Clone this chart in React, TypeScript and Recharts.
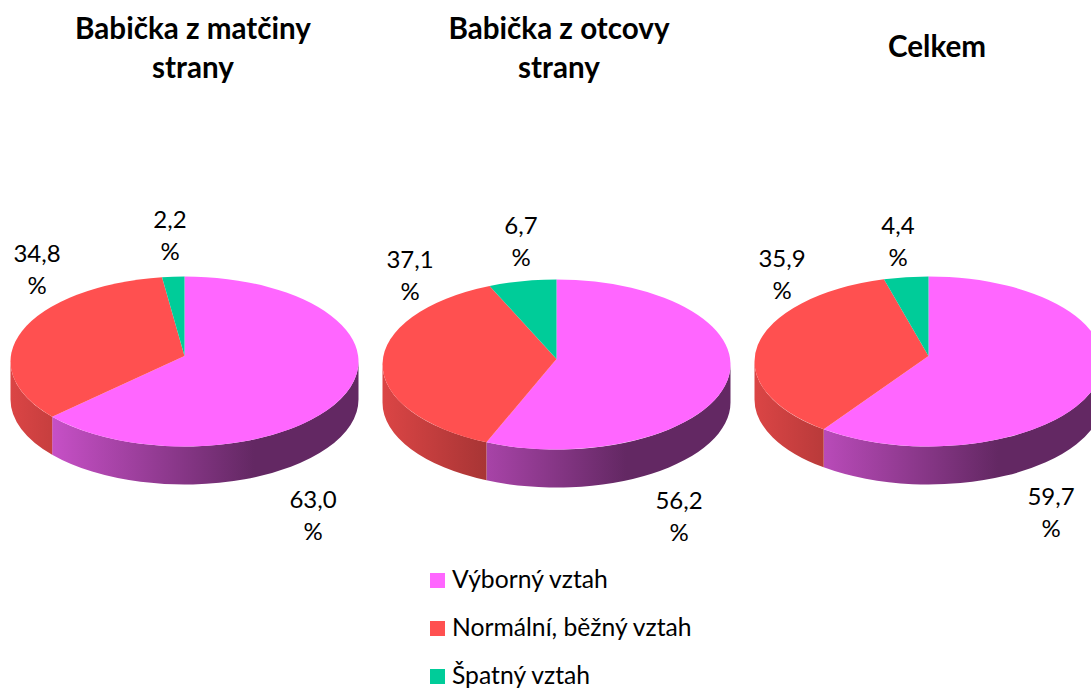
import React from 'react';
import { PieChart, Pie, Legend } from 'recharts';

const categories = ['Výborný vztah', 'Normální, běžný vztah', 'Špatný vztah'];
const colors = ['#FF66FF', '#FF5050', '#00CC99'];

const matcinyValues = [63.0, 34.8, 2.2];
const otcovyValues = [56.2, 37.1, 6.7];
const celkemValues = [59.7, 35.9, 4.4];

const WIDTH = 1091;
const HEIGHT = 688;
const FONT = 'Lato, "Open Sans", sans-serif';

// perspective of the 3D look
const TILT = 85 / 174;
const APEX_SHIFT = 5.5;
const DEPTH = 38;

const shade = (hex: string, k: number) => {
  const n = parseInt(hex.slice(1), 16);
  const c = (v: number) => Math.round(v * k);
  return `rgb(${c((n >> 16) & 255)},${c((n >> 8) & 255)},${c(n & 255)})`;
};

// ray from the apex to the rim of the ellipse, returns the ellipse angle
function rimAngle(angle: number, ry: number) {
  const a = (angle * Math.PI) / 180;
  const dx = Math.cos(a);
  const dy = -Math.sin(a);
  const A = dx * dx + dy * dy;
  const by = (-APEX_SHIFT / ry) * dy;
  const C = (APEX_SHIFT / ry) ** 2 - 1;
  const t = -by + Math.sqrt(by * by - A * C);
  let phi = Math.atan2(t * dy - APEX_SHIFT / ry, t * dx);
  if (phi < -Math.PI / 2 - 1e-6) phi += Math.PI * 2;
  return phi;
}

function Slice3D(props: any) {
  const { cx, cy, outerRadius, startAngle, endAngle, fill } = props;
  const rx = outerRadius;
  const ry = rx * TILT;
  const ey = cy + APEX_SHIFT;
  const s = rimAngle(startAngle, ry);
  let e = rimAngle(endAngle, ry);
  if (e <= s) e += Math.PI * 2;
  const px = (p: number) => cx + rx * Math.cos(p);
  const py = (p: number) => ey + ry * Math.sin(p);
  const top = `M${cx},${cy} L${px(s)},${py(s)} A${rx},${ry} 0 ${e - s > Math.PI ? 1 : 0} 1 ${px(e)},${py(e)} Z`;

  const lo = Math.max(s, 0);
  const hi = Math.min(e, Math.PI);
  const id = `side-${Math.round(cx)}-${fill.slice(1)}`;
  return (
    <g>
      {hi > lo && (
        <>
          <defs>
            <linearGradient id={id} gradientUnits="userSpaceOnUse" x1={cx - rx} x2={cx + rx} y1={0} y2={0}>
              <stop offset="0" stopColor={shade(fill, 0.86)} />
              <stop offset="0.7" stopColor={shade(fill, 0.39)} />
              <stop offset="1" stopColor={shade(fill, 0.39)} />
            </linearGradient>
          </defs>
          <path
            d={`M${px(lo)},${py(lo)} A${rx},${ry} 0 0 1 ${px(hi)},${py(hi)} L${px(hi)},${py(hi) + DEPTH} A${rx},${ry} 0 0 0 ${px(lo)},${py(lo) + DEPTH} Z`}
            fill={`url(#${id})`}
          />
        </>
      )}
      <path d={top} fill={fill} />
    </g>
  );
}

const toRows = (values: number[]) =>
  categories.map((name, i) => ({ name, value: values[i], fill: colors[i] }));

const makeLabel = (xs: number[], ys: number[]) => (props: any) => {
  const { index, value } = props;
  return (
    <text
      key={index}
      textAnchor="middle"
      fontFamily={FONT}
      fontSize={24}
      fill="#000"
    >
      <tspan x={xs[index]} y={ys[index]}>{value.toFixed(1).replace('.', ',')}</tspan>
      <tspan x={xs[index]} y={ys[index] + 32}>%</tspan>
    </text>
  );
};

const pies = [
  { values: matcinyValues, cx: 184.5, cy: 356, labelX: [313, 37, 170], labelY: [508, 262, 228] },
  { values: otcovyValues, cx: 556.5, cy: 359, labelX: [679, 410, 521], labelY: [509, 268, 234] },
  { values: celkemValues, cx: 928.5, cy: 356, labelX: [1051, 782, 898], labelY: [505, 267, 234] },
];

const titles = [
  { text: ['Babička z matčiny', 'strany'], x: 193, y: 8 },
  { text: ['Babička z otcovy', 'strany'], x: 559, y: 8 },
  { text: ['Celkem'], x: 937, y: 26 },
];

function LegendBox() {
  return (
    <div style={{ fontFamily: FONT, fontSize: 24.7, color: '#000' }}>
      {categories.map((c, i) => (
        <div key={c} style={{ position: 'absolute', left: 0, top: i * 48, height: 48, width: 300, display: 'flex', alignItems: 'center' }}>
          <span style={{ width: 15, height: 15, background: colors[i], marginRight: 7, flex: 'none' }} />
          <span style={{ position: 'relative', top: -2 }}>{c}</span>
        </div>
      ))}
    </div>
  );
}

export default function App() {
  return (
    <div style={{ position: 'absolute', left: 0, top: 0, width: WIDTH, height: HEIGHT, overflow: 'hidden', background: '#fff' }}>
      <PieChart width={WIDTH} height={HEIGHT} margin={{ top: 0, right: 0, bottom: 0, left: 0 }}>
        {pies.map((p, i) => (
          <Pie
            key={i}
            data={toRows(p.values)}
            dataKey="value"
            nameKey="name"
            cx={p.cx}
            cy={p.cy}
            innerRadius={0}
            outerRadius={174}
            startAngle={90}
            endAngle={-270}
            stroke="none"
            shape={Slice3D}
            label={makeLabel(p.labelX, p.labelY)}
            labelLine={false}
            isAnimationActive={false}
          />
        ))}
        <Legend
          content={() => <LegendBox />}
          wrapperStyle={{ position: 'absolute', left: 430, top: 556, width: 300, height: 130, bottom: 'auto' }}
        />
      </PieChart>
      {titles.map(t => (
        <div
          key={t.text[0]}
          style={{
            position: 'absolute',
            left: t.x - 200,
            top: t.y,
            width: 400,
            textAlign: 'center',
            fontFamily: FONT,
            fontWeight: 700,
            fontSize: 29.6,
            lineHeight: '39px',
            color: '#000',
          }}
        >
          {t.text.map(line => <div key={line}>{line}</div>)}
        </div>
      ))}
    </div>
  );
}
